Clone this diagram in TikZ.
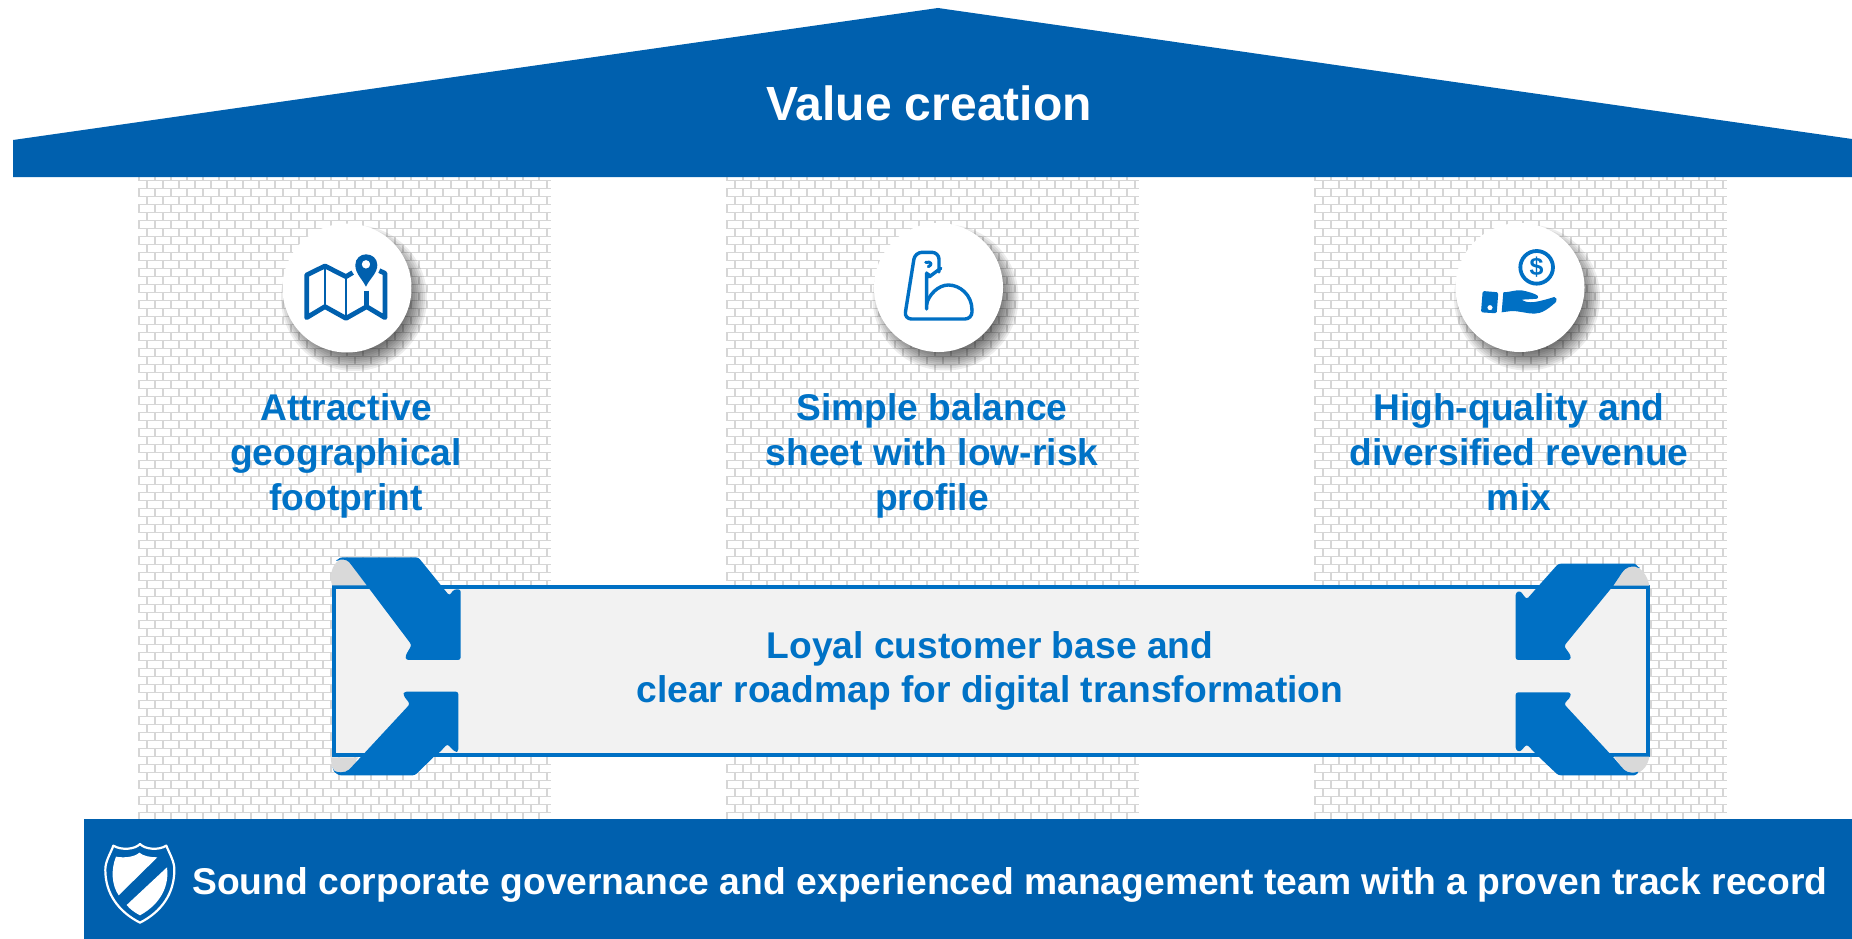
\documentclass[tikz,border=0pt]{standalone}
\usepackage{fontspec}
\setmainfont{Liberation Sans}
\definecolor{roofblue}{HTML}{0060AE}
\definecolor{arrowblue}{HTML}{0070C4}
\definecolor{textblue}{HTML}{0072C6}
\definecolor{brickgray}{HTML}{D6D6D6}
\definecolor{panelgray}{HTML}{F2F2F2}
\definecolor{foldgray}{HTML}{D9D9D9}
\newcommand{\brickcol}[1]{%
  \begin{scope}
    \clip (#1,177) rectangle (#1+413,819);
    \draw[brickline] \foreach \k in {-1,...,80}{
      (#1,180.3+8*\k) -- (#1+413,180.3+8*\k)
    };
    \foreach \k in {-1,1,...,79}{
      \draw[brickline] \foreach \i in {0,...,26}{
        (#1+1+16*\i,180.3+8*\k) -- (#1+1+16*\i,188.3+8*\k)
        (#1+9+16*\i,188.3+8*\k) -- (#1+9+16*\i,196.3+8*\k)
      };
    }
  \end{scope}}
\newcommand{\badge}[3]{%
  \foreach \r in {73,71,...,55}{
    \fill[black,opacity=0.075] (#1+7,#2+10) circle (\r);
  }
  \node[badgecircle] (#3) at (#1,#2) {};}
\tikzset{
  brickline/.style={draw=brickgray,line width=1.5pt},
  badgecircle/.style={circle,fill=white,minimum size=129pt,inner sep=0pt},
  title/.style={text=white,font=\bfseries\fontsize{48}{56}\selectfont,inner sep=0pt},
  pillar/.style={text=textblue,align=center,font=\bfseries\fontsize{37.2}{45}\selectfont,inner sep=0pt},
  bandtext/.style={text=textblue,align=center,font=\bfseries\fontsize{37.2}{44}\selectfont,inner sep=0pt},
  basetext/.style={text=white,font=\bfseries\fontsize{37.25}{44}\selectfont,inner sep=0pt},
  fold/.style={fill=foldgray},
  bigarrow/.style={fill=arrowblue,rounded corners=2.5pt},
  icon/.style={draw=roofblue,line width=#1,line join=round},
  icon/.default=4.8pt,
}
\begin{document}
\begin{tikzpicture}[x=1pt,y=-1pt]
\useasboundingbox (0,0) rectangle (1852,939);
\brickcol{138}
\brickcol{726}
\brickcol{1314}
% roof and base
\fill[roofblue] (13,140) -- (938,8) -- (1852,139) -- (1852,177) -- (13,177) -- cycle;
\fill[roofblue] (84,819) rectangle (1852,939);
\node[title] (roof) at (929,103) {Value creation};
% badges
\badge{347}{288}{b1}
\badge{938.5}{287.5}{b2}
\badge{1520}{287.5}{b3}
% map icon
\begin{scope}[shift={(130,170)},x=0.3333pt,y=-0.3333pt]
  \draw[icon,line cap=butt] (668,308) -- (648,320) -- (585,288) -- (530,315) -- (530,443) -- (585,410) -- (648,445) -- (710,410) -- (765,443) -- (765,310) -- (748,302);
  \draw[icon=2.6pt] (585,288) -- (585,410) (648,320) -- (648,445);
  \draw[icon] (710,362) -- (710,410);
  \fill[roofblue,even odd rule] (708,350) .. controls (695,325) and (676,310) .. (676,285) .. controls (676,265) and (692,253) .. (708,253) .. controls (726,253) and (742,265) .. (742,285) .. controls (742,310) and (720,325) .. (708,350) -- cycle (708,283) circle (13);
\end{scope}
% arm icon
\begin{scope}[shift={(860,215)},x=0.3333pt,y=-0.3333pt]
  \draw[icon=3.4pt,draw=arrowblue,line cap=round,rounded corners=7pt] (200,282) -- (200,195) .. controls (200,180) and (215,180) .. (225,172) .. controls (235,165) and (237,158) .. (237,150) -- (237,112) -- (165,112) -- (133,312) -- (336,312) -- (336,285);
  \draw[icon=3.4pt,draw=arrowblue,line cap=round] (336,285) .. controls (336,240) and (300,210) .. (265,210) .. controls (235,210) and (205,240) .. (200,268);
  \draw[icon=3pt,draw=arrowblue,line cap=round] (197,142) .. controls (215,138) and (218,150) .. (205,155);
\end{scope}
% hand icon
\begin{scope}[shift={(1440,215)},x=0.3333pt,y=-0.3333pt]
  \draw[draw=arrowblue,line width=3.8pt] (290,157) circle (49);
  \node[text=arrowblue,font=\bfseries\fontsize{25}{25}\selectfont,inner sep=0pt] (dollar) at (290,157) {\$};
  \fill[arrowblue,rounded corners=1.5pt,even odd rule] (128,228) -- (175,232) -- (170,295) -- (123,292) -- cycle (150,278) circle (8);
  \fill[arrowblue] (190,232) .. controls (210,232) and (225,224) .. (245,226) .. controls (265,230) and (285,236) .. (293,242) .. controls (297,250) and (290,253) .. (280,252) -- (245,254) .. controls (265,268) and (290,262) .. (343,246) .. controls (350,246) and (352,256) .. (348,261) .. controls (325,282) and (305,296) .. (283,296) .. controls (260,296) and (240,288) .. (215,288) -- (185,292) -- cycle;
\end{scope}
% band
\node[draw=arrowblue,fill=panelgray,line width=3.8pt,inner sep=0pt,minimum width=1314pt,minimum height=168pt] (band) at (991,671) {};
\node[pillar] (p1) at (346,456) {Attractive\\geographical\\footprint};
\node[pillar] (p2) at (932,456) {Simple balance\\sheet with low-risk\\profile};
\node[pillar] (p3) at (1519,452) {High-quality and\\diversified revenue\\mix};
\node[bandtext] (bt) at (990,671) {Loyal customer base and\\clear roadmap for digital transformation};
% left arrows
\begin{scope}[shift={(320,540)},x=0.3333pt,y=-0.3333pt]
  \fill[fold] (36,136) .. controls (26,100) and (40,62) .. (70,56) -- (95,72) -- (140,136) -- cycle;
  \fill[fold] (32,652) .. controls (34,680) and (40,695) .. (60,700) -- (90,690) -- (115,652) -- cycle;
  \fill[bigarrow] (48,66) .. controls (55,54) and (65,52) .. (75,52) -- (295,52) -- (388,167) -- (402,148) -- (422,148) -- (422,360) -- (258,360) -- (256,348) -- (275,315) -- (92,72) .. controls (80,58) and (62,56) .. (48,66) -- cycle;
  \fill[bigarrow] (38,688) .. controls (50,698) and (75,700) .. (92,684) -- (270,492) -- (250,466) -- (252,455) -- (415,455) -- (415,635) -- (405,636) -- (382,612) -- (360,636) -- (342,650) -- (285,706) -- (70,706) .. controls (55,706) and (45,698) .. (38,688) -- cycle;
\end{scope}
% right arrows
\begin{scope}[shift={(1500,550)},x=0.3333pt,y=-0.3333pt]
  \fill[fold] (340,107) -- (372,60) -- (402,46) .. controls (425,55) and (442,75) .. (448,107) -- cycle;
  \fill[fold] (342,620) -- (448,620) .. controls (444,645) and (430,665) .. (405,672) -- (372,660) -- cycle;
  \fill[bigarrow] (420,58) .. controls (410,44) and (405,41) .. (395,41) -- (175,41) -- (118,105) -- (80,148) -- (60,122) -- (47,128) -- (47,330) -- (212,330) -- (212,316) -- (192,288) -- (340,107) -- (370,62) .. controls (385,50) and (405,46) .. (420,58) -- cycle;
  \fill[bigarrow] (47,427) -- (212,427) -- (212,440) -- (192,462) -- (340,622) -- (368,655) .. controls (382,668) and (402,670) .. (418,663) .. controls (412,672) and (405,676) .. (395,676) -- (175,676) -- (118,622) -- (80,583) -- (60,606) -- (47,600) -- cycle;
\end{scope}
% shield
\begin{scope}[shift={(80,810)},x=0.3333pt,y=-0.3333pt]
  \draw[draw=white,line width=2.2pt,line join=round] (180,102) .. controls (195,118) and (235,122) .. (259,107) .. controls (268,130) and (284,155) .. (283,180) .. controls (283,250) and (245,305) .. (180,338) .. controls (115,305) and (76,250) .. (76,180) .. controls (75,155) and (92,130) .. (100,107) .. controls (125,122) and (165,118) .. (180,102) -- cycle;
  \fill[white] (108,140) .. controls (135,145) and (165,140) .. (178,128) .. controls (190,138) and (210,142) .. (232,142) -- (116,256) .. controls (95,225) and (92,180) .. (108,140) -- cycle;
  \fill[white] (261,172) .. controls (268,225) and (245,280) .. (180,316) .. controls (165,308) and (150,298) .. (140,285) -- cycle;
\end{scope}
\node[basetext,anchor=west] (base) at (192,885) {Sound corporate governance and experienced management team with a proven track record};
\end{tikzpicture}
\end{document}
